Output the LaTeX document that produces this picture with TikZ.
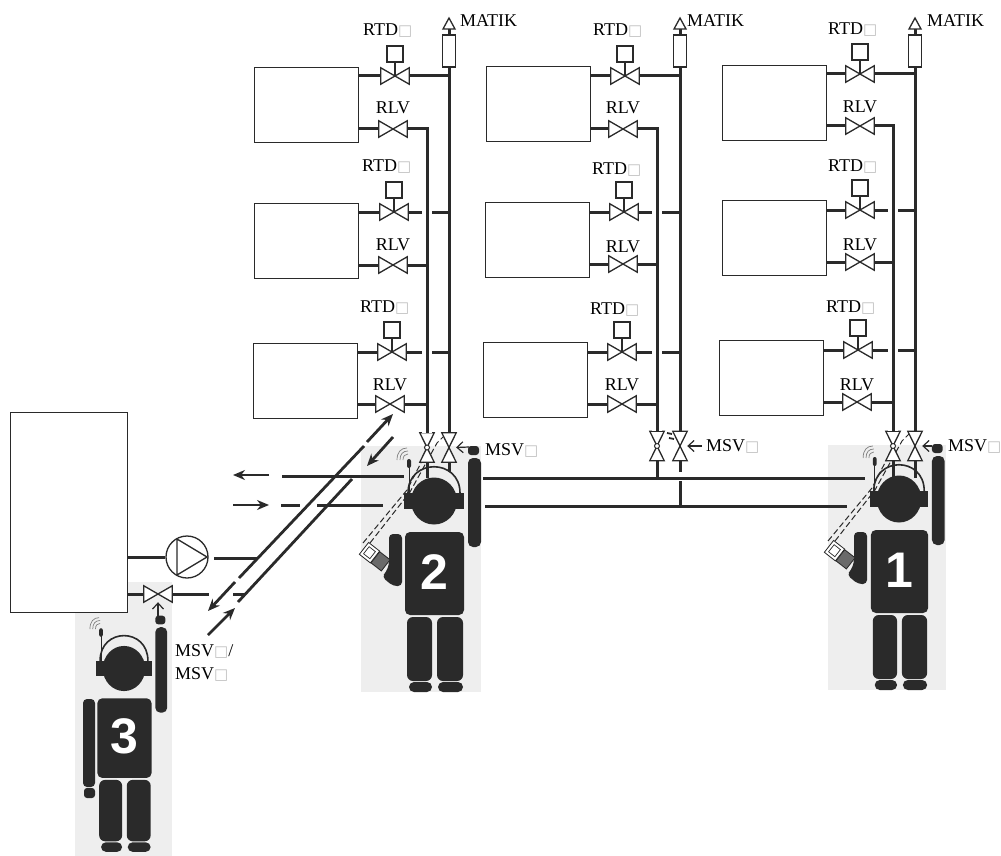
\documentclass[tikz,border=0pt]{standalone}
\usepackage{fontspec}
\setmainfont{Liberation Serif}
\newfontfamily\symbfont{DejaVu Sans}
\newfontfamily\digitfont{Liberation Sans}
\usetikzlibrary{arrows.meta}
\definecolor{ink}{HTML}{2A2A2A}
\definecolor{backdrop}{HTML}{EEEEEE}
\tikzset{
  pipe/.style={ink, line width=3pt},
  halo/.style={preaction={draw, white, line width=10pt}},
  outline/.style={draw=ink, line width=1.3pt},
  radiator/.style={outline, fill=white, anchor=north west, minimum width=104pt, minimum height=75pt, inner sep=0pt},
  valvebox/.style={minimum width=28pt, minimum height=16pt, inner sep=0pt},
  msvbox/.style={minimum width=14pt, minimum height=29pt, inner sep=0pt},
  actuator/.style={outline, fill=white, minimum size=16pt, inner sep=0pt},
  tube/.style={outline, fill=white, minimum width=13pt, minimum height=32pt, inner sep=0pt},
  tagtext/.style={inner sep=0pt, font=\fontsize{18}{20}\selectfont},
  body/.style={fill=ink},
  flowarrow/.style={ink, line width=2.8pt, -{Stealth[length=12pt, width=10pt]}},
  pointer/.style={ink, line width=1.2pt, -{Straight Barb[length=6pt, width=11pt]}},
  radio/.style={ink, line width=1pt, dash pattern=on 6pt off 3pt},
  waves/.style={gray, line width=0.7pt}
}
\newcommand{\tofu}{{\symbfont\fontsize{15}{15}\selectfont\textcolor{black!25}{□}}}
\newcommand{\valve}[3]{%
  \node[valvebox] (#1) at (#2,#3) {};
  \draw[outline, fill=white] (#1.north west) -- (#1.south east) -- (#1.north east) -- (#1.south west) -- cycle;
}
\newcommand{\msv}[3]{%
  \node[msvbox] (#1) at (#2,#3) {};
  \draw[outline, fill=white] (#1.north west) -- (#1.north east) -- (#1.south west) -- (#1.south east) -- cycle;
}
% valve with actuator on top, hooked to its radiator
\newcommand{\rtd}[5]{%
  \valve{#1}{#3}{#4}
  \node[actuator] (#1s) at (#3,#4-22) {};
  \draw[ink, line width=1.3pt] (#1s.south) -- (#1.center);
  \node[tagtext, anchor=west] (#1t) at (#3-32,#5) {RTD\tofu};
  \draw[pipe] (#2.east |- #1.west) -- (#1.west);
}
\newcommand{\rlv}[5]{%
  \valve{#1}{#3}{#4}
  \node[tagtext] (#1t) at (#3,#5) {RLV};
  \draw[pipe] (#2.east |- #1.west) -- (#1.west);
}
\newcommand{\vent}[3]{%
  \node[tube] (#1) at (#2,51) {};
  \draw[pipe] (#2,35) -- (#2,29);
  \draw[outline, fill=white] (#2-6,29) -- (#2,18) -- (#2+6,29) -- cycle;
  \node[tagtext, anchor=west] (#1t) at (#3,21) {MATIK};
}
\newcommand{\person}[5]{%
  \begin{scope}[shift={(#1,#2)}, xscale=#4, yscale=#5]
    \fill[body] (0,0) ellipse [x radius=23, y radius=23.5];
    \fill[body] (-30,-8) rectangle (-21,8);
    \fill[body] (21,-8) rectangle (30,8);
    \draw[ink, line width=1.6pt] (-26,-8) .. controls (-26,-43) and (26,-43) .. (26,-8);
    \draw[ink, line width=1pt] (-25,-8) -- (-25,-37);
    \fill[body, rounded corners=2pt] (-27,-42) rectangle (-23,-33);
    \draw[waves] (-31,-41) .. controls (-31,-45) and (-29,-47) .. (-26,-47);
    \draw[waves] (-34,-41) .. controls (-34,-47) and (-31,-50) .. (-26,-50);
    \draw[waves] (-37,-41) .. controls (-37,-49) and (-33,-53) .. (-27,-53);
    \fill[body, rounded corners=5pt] (-29,31) rectangle (30,114);
    \fill[body, rounded corners=6pt] (-27,116) rectangle (-2,180);
    \fill[body, rounded corners=6pt] (3,116) rectangle (29,180);
    \fill[body, rounded corners=5pt] (-25,181) rectangle (-2,191);
    \fill[body, rounded corners=5pt] (4,181) rectangle (29,191);
    \fill[body, rounded corners=5pt] (34,-43) rectangle (47,46);
    \fill[body, rounded corners=3pt] (34,-55) rectangle (45,-46);
    \node[text=white, font=\digitfont\bfseries\fontsize{50}{50}\selectfont] (digit#3) at (0,71) {#3};
  \end{scope}
}
\newcommand{\phonearm}[2]{%
  \begin{scope}[shift={(#1,#2)}]
    \fill[body, rounded corners=4pt] (-32,33) -- (-45,33) -- (-45,64) -- (-48,71) -- (-52,76) -- (-41,85) -- (-32,85) -- cycle;
    \begin{scope}[shift={(-59,56)}, rotate=-38]
      \fill[ink] (-14,-7.5) rectangle (14,7.5);
      \draw[ink, fill=white, line width=0.8pt] (-14,-7.5) rectangle (0,7.5);
      \draw[ink, line width=0.7pt] (-11,-4.5) rectangle (-3,4.5);
      \fill[ink!70] (1,-6.5) rectangle (13,6.5);
    \end{scope}
    \draw[radio] (-71,42) -- (-27,-11) -- (-9,-46);
    \draw[radio] (-64,42) -- (-24,-9) -- (3,-58) -- (11,-66);
  \end{scope}
}
\begin{document}
\begin{tikzpicture}[x=1pt, y=-1pt]
\useasboundingbox (0,0) rectangle (1001,856);

% shaded backgrounds
\fill[backdrop] (361,446) rectangle (481,692);
\fill[backdrop] (828,445) rectangle (946,690);
\fill[backdrop] (75,582) rectangle (172,856);

\person{434}{501}{2}{1}{1}
\person{899}{499}{1}{0.97}{1}
\person{124}{668.5}{3}{0.92}{0.96}
\phonearm{434}{501}
\phonearm{899}{499}
\fill[body, rounded corners=4pt] (83,699) rectangle (95,787);
\fill[body, rounded corners=3pt] (84,788) rectangle (95,798);

% radiators
\node[radiator] (a1) at (254,67) {};
\node[radiator] (a2) at (254,203) {};
\node[radiator] (a3) at (253,343) {};
\node[radiator] (b1) at (486,66) {};
\node[radiator] (b2) at (485,202) {};
\node[radiator] (b3) at (483,342) {};
\node[radiator] (c1) at (722,65) {};
\node[radiator] (c2) at (722,200) {};
\node[radiator] (c3) at (719,340) {};

% valves
\rtd{ta1}{a1}{395}{76}{31}
\rlv{la1}{a1}{393}{129}{108}
\rtd{ta2}{a2}{394}{212}{167}
\rlv{la2}{a2}{393}{265}{245}
\rtd{ta3}{a3}{392}{352}{308}
\rlv{la3}{a3}{390}{404}{385}
\rtd{tb1}{b1}{625}{76}{31}
\rlv{lb1}{b1}{623}{129}{108}
\rtd{tb2}{b2}{624}{212}{170}
\rlv{lb2}{b2}{623}{264}{247}
\rtd{tb3}{b3}{622}{352}{310}
\rlv{lb3}{b3}{622}{404}{385}
\rtd{tc1}{c1}{860}{74}{30}
\rlv{lc1}{c1}{860}{126}{107}
\rtd{tc2}{c2}{860}{210}{167}
\rlv{lc2}{c2}{860}{262}{245}
\rtd{tc3}{c3}{858}{350}{308}
\rlv{lc3}{c3}{857}{402}{385}

\vent{va}{449}{460}
\vent{vb}{680}{687}
\vent{vc}{915}{927}

\msv{ra}{427}{447.5}
\msv{fa}{449}{447.5}
\msv{rb}{657}{446}
\msv{fb}{680}{446}
\msv{rc}{893}{446}
\msv{fc}{915}{446}
\foreach \v in {ra,rb,rc}
  \draw[ink, fill=white, line width=1pt] (\v.center) circle (2.5);

% pipes to the risers
\foreach \c in {a,b,c} {
  \foreach \r in {1,2,3}
    \draw[pipe] (t\c\r.east) -- (f\c.north |- t\c\r.east);
  \draw[pipe] (v\c.south) -- (f\c.north);
  \draw[pipe, halo] (r\c.north |- l\c1.east) -- (r\c.north);
  \draw[pipe] (l\c1.east) -- (r\c.north |- l\c1.east) -- (r\c.north);
  \draw[pipe] (l\c2.east) -- (r\c.north |- l\c2.east);
  \draw[pipe] (l\c3.east) -- (r\c.north |- l\c3.east);
}

% mains
\coordinate (u0) at (282,476);
\coordinate (u1) at (404,476);
\coordinate (u2) at (483,478);
\coordinate (u3) at (865,478);
\coordinate (d0) at (281,505);
\coordinate (d1) at (300,505);
\coordinate (d2) at (317,505);
\coordinate (d3) at (383,505);
\coordinate (d4) at (485,506);
\coordinate (d5) at (847,506);
\draw[pipe] (u0) -- (u1);
\draw[pipe] (u2) -- (u3);
\draw[pipe] (d0) -- (d1);
\draw[pipe] (d2) -- (d3);
\draw[pipe] (d4) -- (d5);
\draw[pipe] (ra.south) -- (427,478);
\draw[pipe] (fa.south) -- (449,472);
\draw[pipe] (rb.south) -- (657,478);
\draw[pipe] (fb.south) -- (680,472);
\draw[pipe] (680,481) -- (680,506);
\draw[pipe] (rc.south) -- (893,478);
\draw[pipe] (fc.south) -- (915,478);
\draw[ink, line width=1.8pt] (667,433) -- (672,434) (669,438) -- (674,439);

% flow arrows at the far end of the mains
\coordinate (ar1) at (269,475);
\coordinate (ar2) at (233,475);
\coordinate (ar3) at (233,505);
\coordinate (ar4) at (269,505);
\draw[flowarrow] (ar1) -- (ar2);
\draw[flowarrow] (ar3) -- (ar4);

% boiler and pump
\node[outline, fill=white, anchor=north west, minimum width=117pt, minimum height=200pt, inner sep=0pt] (boiler) at (10,412) {};
\node[outline, circle, minimum size=42pt, inner sep=0pt] (pump) at (187,557) {};
\draw[ink, line width=1.3pt] (177,539) -- (207,557) -- (177,575) -- cycle;
\coordinate (pout) at (214,558);
\coordinate (pend) at (258,558);
\draw[pipe] (boiler.east |- pump.west) -- (pump.west);
\draw[pipe] (pout) -- (pend);
\valve{sv}{158}{594}
\coordinate (s1) at (209,594);
\coordinate (s2) at (233,594);
\coordinate (s3) at (245,594);
\draw[pipe] (boiler.east |- sv.west) -- (sv.west);
\draw[pipe] (sv.east) -- (s1);
\draw[pipe] (s2) -- (s3);

% diagonal flow lines
\coordinate (g0) at (239,578);
\coordinate (g1) at (364,446);
\coordinate (g2) at (367,442);
\coordinate (g3) at (393,414);
\coordinate (g4) at (235,582);
\coordinate (g5) at (208,611);
\coordinate (g6) at (352,479);
\coordinate (g7) at (238,602);
\coordinate (g8) at (208,635);
\coordinate (g9) at (235,608);
\coordinate (g10) at (393,437);
\coordinate (g11) at (367,466);
\draw[pipe, line width=2.8pt] (g0) -- (g1);
\draw[flowarrow] (g2) -- (g3);
\draw[flowarrow] (g4) -- (g5);
\draw[pipe, line width=2.8pt] (g6) -- (g7);
\draw[flowarrow] (g8) -- (g9);
\draw[flowarrow] (g10) -- (g11);

% pointers and labels
\node[tagtext, anchor=west] (ma) at (485,450) {MSV\tofu};
\node[tagtext, anchor=west] (mb) at (706,446) {MSV\tofu};
\node[tagtext, anchor=west] (mc) at (948,446) {MSV\tofu};
\node[tagtext, anchor=west] (m1) at (175,651) {MSV\tofu/};
\node[tagtext, anchor=west] (m2) at (175,674) {MSV\tofu};
\coordinate (pa) at (469,447);
\coordinate (pb) at (702,446);
\coordinate (pc) at (932,446);
\coordinate (ps) at (158,617);
\draw[pointer] (pa) -- (fa.east);
\draw[pointer] (pb) -- (fb.east);
\draw[pointer] (pc) -- (fc.east);
\draw[pointer] (ps) -- (sv.south);

\end{tikzpicture}
\end{document}
